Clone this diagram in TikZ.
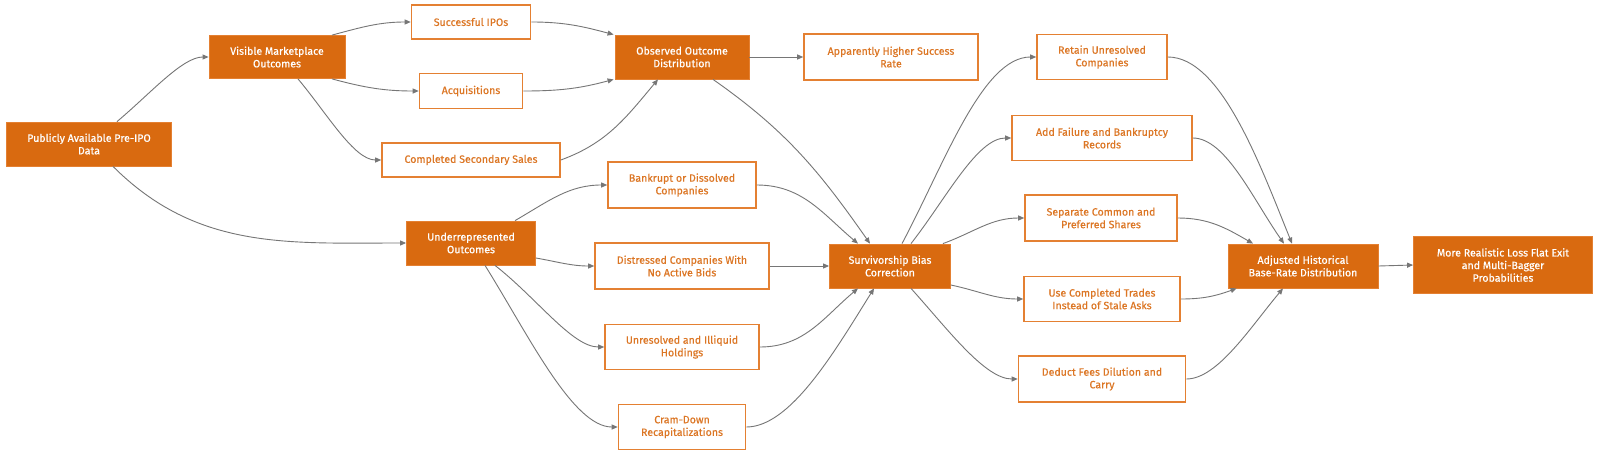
\documentclass[tikz,border=0pt]{standalone}
\usepackage{fontspec}
\setmainfont{Fira Sans}[FakeBold=0.5]
\usetikzlibrary{arrows.meta}
\definecolor{ofill}{RGB}{217,106,16}
\definecolor{oline}{RGB}{228,128,50}
\definecolor{otext}{RGB}{220,118,36}
\definecolor{edgec}{RGB}{118,118,118}
\tikzset{
  base/.style={rectangle, align=center, inner sep=2pt, font=\fontsize{10.6}{12.6}\selectfont},
  filledbox/.style={base, fill=ofill, draw=oline, line width=0.8pt, text=white},
  linebox/.style={base, fill=white, draw=oline, line width=1.6pt, text=otext},
  conn/.style={draw=edgec, line width=0.9pt, -{Triangle[length=6pt,width=5pt]}},
}
\begin{document}
\begin{tikzpicture}[x=1pt,y=-1pt]
\useasboundingbox (0,0) rectangle (1600,455);
\fill[white] (0,0) rectangle (1600,455);
% nodes
\node[filledbox, minimum width=165, minimum height=44] (pub) at (89,144) {Publicly Available Pre-IPO\\Data};
\node[filledbox, minimum width=136, minimum height=43] (vis) at (277,57) {Visible Marketplace\\Outcomes};
\node[linebox, minimum width=119, minimum height=34] (ipo) at (471,22) {Successful IPOs};
\node[linebox, minimum width=103, minimum height=35] (acq) at (471,91) {Acquisitions};
\node[linebox, minimum width=178, minimum height=34] (css) at (471,160) {Completed Secondary Sales};
\node[filledbox, minimum width=134, minimum height=44] (obs) at (682,57) {Observed Outcome\\Distribution};
\node[linebox, minimum width=174, minimum height=46] (app) at (891,57) {Apparently Higher Success\\Rate};
\node[filledbox, minimum width=129, minimum height=44] (und) at (471,243) {Underrepresented\\Outcomes};
\node[linebox, minimum width=148, minimum height=46] (bank) at (682,185) {Bankrupt or Dissolved\\Companies};
\node[linebox, minimum width=174, minimum height=46] (dist) at (682,266) {Distressed Companies With\\No Active Bids};
\node[linebox, minimum width=154, minimum height=45] (unr) at (682,347) {Unresolved and Illiquid\\Holdings};
\node[linebox, minimum width=127, minimum height=45] (cram) at (682,427) {Cram-Down\\Recapitalizations};
\node[filledbox, minimum width=121, minimum height=44] (surv) at (890,266) {Survivorship Bias\\Correction};
\node[linebox, minimum width=130, minimum height=45] (ret) at (1102,57) {Retain Unresolved\\Companies};
\node[linebox, minimum width=180, minimum height=45] (add) at (1102,138) {Add Failure and Bankruptcy\\Records};
\node[linebox, minimum width=152, minimum height=46] (sep) at (1101,218) {Separate Common and\\Preferred Shares};
\node[linebox, minimum width=156, minimum height=45] (use) at (1102,299) {Use Completed Trades\\Instead of Stale Asks};
\node[linebox, minimum width=167, minimum height=46] (ded) at (1102,379) {Deduct Fees Dilution and\\Carry};
\node[filledbox, minimum width=150, minimum height=44] (adj) at (1303,266) {Adjusted Historical\\Base-Rate Distribution};
\node[filledbox, minimum width=179, minimum height=57] (more) at (1503,265) {More Realistic Loss Flat Exit\\and Multi-Bagger\\Probabilities};
% connectors
\draw[conn] ([xshift=28]pub.north) to[out=40,in=180,in looseness=0.6] (vis.west);
\draw[conn] ([xshift=24]pub.south) to[out=-45,in=180] (und.west);
\draw[conn] ([xshift=55]vis.north) to[out=15,in=180] (ipo.west);
\draw[conn] ([xshift=55]vis.south) to[out=-15,in=180] (acq.west);
\draw[conn] ([xshift=21]vis.south) to[out=-50,in=180,in looseness=0.6] (css.west);
\draw[conn] (ipo.east) to[out=0,in=165] ([xshift=-1]obs.north west);
\draw[conn] (acq.east) to[out=0,in=195] ([xshift=-1]obs.south west);
\draw[conn] (css.east) to[out=20,in=-130] ([xshift=-24]obs.south);
\draw[conn] (obs.east) -- (app.west);
\draw[conn] ([xshift=31]obs.south) to[out=-35,in=125] ([xshift=-20]surv.north);
\draw[conn] ([xshift=44]und.north) to[out=30,in=180] (bank.west);
\draw[conn] ([yshift=-15]und.east) to[out=-10,in=180] (dist.west);
\draw[conn] ([xshift=24]und.south) to[out=-38,in=180,in looseness=0.6] (unr.west);
\draw[conn] ([xshift=14]und.south) to[out=-58,in=180,in looseness=0.55] (cram.west);
\draw[conn] (bank.east) to[out=0,in=140] ([xshift=-32]surv.north);
\draw[conn] (dist.east) -- (surv.west);
\draw[conn] (unr.east) to[out=0,in=-140] ([xshift=-32]surv.south);
\draw[conn] (cram.east) to[out=0,in=-122,out looseness=0.6] ([xshift=-16]surv.south);
\draw[conn] ([xshift=12]surv.north) to[out=62,in=180,in looseness=0.6] (ret.west);
\draw[conn] ([xshift=21]surv.north) to[out=52,in=180,in looseness=0.6] (add.west);
\draw[conn] ([xshift=-8]surv.north east) to[out=20,in=180] (sep.west);
\draw[conn] ([yshift=-19]surv.east) to[out=-12,in=180] (use.west);
\draw[conn] ([xshift=21]surv.south) to[out=-48,in=180,in looseness=0.6] (ded.west);
\draw[conn] (ret.east) to[out=0,in=112,out looseness=0.6] ([xshift=-11]adj.north);
\draw[conn] (add.east) to[out=0,in=125,out looseness=0.6] ([xshift=-19]adj.north);
\draw[conn] (sep.east) to[out=0,in=150] ([xshift=-50]adj.north);
\draw[conn] (use.east) to[out=0,in=-160] ([xshift=9]adj.south west);
\draw[conn] (ded.east) to[out=0,in=-130,out looseness=0.6] ([xshift=-20]adj.south);
\draw[conn] (adj.east) -- (more.west);
\end{tikzpicture}
\end{document}
